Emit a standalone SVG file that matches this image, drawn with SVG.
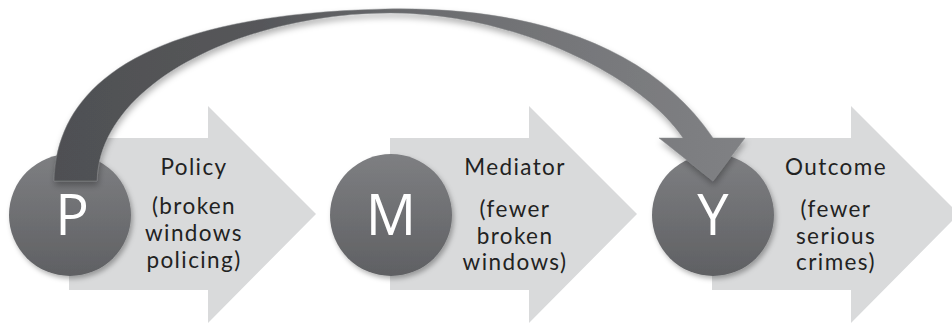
<svg xmlns="http://www.w3.org/2000/svg" width="952" height="324" viewBox="0 0 952 324">
  <defs>
    <linearGradient id="circ" x1="0" y1="0" x2="0" y2="1">
      <stop offset="0" stop-color="#7e7f82"/>
      <stop offset="1" stop-color="#5f6063"/>
    </linearGradient>
    <linearGradient id="curve" gradientUnits="userSpaceOnUse" x1="55" y1="0" x2="745" y2="0">
      <stop offset="0" stop-color="#4f5053"/>
      <stop offset="0.3" stop-color="#56575a"/>
      <stop offset="0.55" stop-color="#6c6d70"/>
      <stop offset="0.8" stop-color="#78797c"/>
      <stop offset="1" stop-color="#808184"/>
    </linearGradient>
    <filter id="sh" x="-20%" y="-20%" width="140%" height="140%">
      <feDropShadow dx="2" dy="3" stdDeviation="2.5" flood-color="#000" flood-opacity="0.3"/>
    </filter>
    <filter id="csh" x="-10%" y="-10%" width="120%" height="130%">
      <feDropShadow dx="1" dy="4" stdDeviation="3" flood-color="#000" flood-opacity="0.3"/>
    </filter>
  </defs>
  <style>
    .arrow { fill: #d9dadb; }
    .circle { fill: url(#circ); filter: url(#sh); }
    .letter { font-family: "Open Sans", "Lato", sans-serif; font-size: 56px; fill: #ffffff; text-anchor: middle; }
    .title, .sub { font-family: "Lato", "Open Sans", sans-serif; font-size: 22.5px; fill: #222222; text-anchor: middle; letter-spacing: 1.4px; }
  </style>

  <g id="policy-arrow">
    <polygon class="arrow" points="69,138 208,138 208,106 316,214 208,323 208,290 69,290"/>
    <text class="title" x="194" y="175">Policy</text>
    <text class="sub" x="194" y="214">(broken</text>
    <text class="sub" x="194" y="241">windows</text>
    <text class="sub" x="194" y="268">policing)</text>
  </g>
  <g id="mediator-arrow">
    <polygon class="arrow" points="390,138 529,138 529,106 637,214 529,323 529,290 390,290"/>
    <text class="title" x="515" y="175">Mediator</text>
    <text class="sub" x="515" y="217">(fewer</text>
    <text class="sub" x="515" y="244">broken</text>
    <text class="sub" x="515" y="270">windows)</text>
  </g>
  <g id="outcome-arrow">
    <polygon class="arrow" points="712,138 851,138 851,106 959,214 851,323 851,290 712,290"/>
    <text class="title" x="836" y="175">Outcome</text>
    <text class="sub" x="836" y="217">(fewer</text>
    <text class="sub" x="836" y="244">serious</text>
    <text class="sub" x="836" y="270">crimes)</text>
  </g>

  <g id="node-P">
    <circle class="circle" cx="70" cy="215" r="61"/>
    <text class="letter" x="72" y="235">P</text>
  </g>
  <g id="node-M">
    <circle class="circle" cx="391" cy="215" r="61"/>
    <text class="letter" x="391" y="235">M</text>
  </g>
  <g id="node-Y">
    <circle class="circle" cx="713" cy="215" r="61"/>
    <text class="letter" x="713" y="235">Y</text>
  </g>

  <g id="connectors">
    <path fill="url(#curve)" filter="url(#csh)" stroke="#8a8b8e" stroke-width="0.8" stroke-opacity="0.6"
      d="M54,181 C56,100 120,15 385,9 C530,6 650,45 713,138 L745,138 L713,181 L659,138 L683,138 C645,80 520,13 390,13 C250,13 100,80 97,181 Z"/>
  </g>
</svg>
